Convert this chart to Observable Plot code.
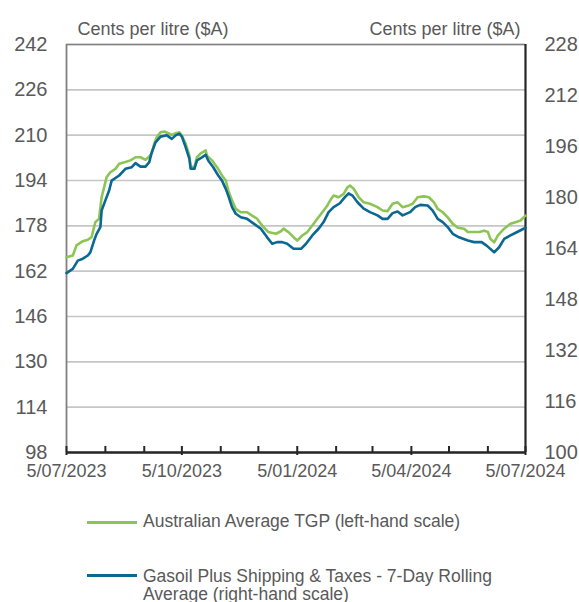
<!DOCTYPE html>
<html><head><meta charset="utf-8">
<script src="https://cdn.jsdelivr.net/npm/d3@7"></script>
<script src="https://cdn.jsdelivr.net/npm/@observablehq/plot@0.6"></script>
<style>
body{margin:0;background:#fff;font-family:"Liberation Sans",Arial,sans-serif;color:#595959;}
#wrap{position:relative;width:579px;height:602px;overflow:hidden;background:#fff;}
#chart{position:absolute;left:0;top:0;}
.sw{position:absolute;left:87px;width:50px;height:3px;}
.lt{position:absolute;left:143px;font-size:17.5px;line-height:18px;width:385px;white-space:normal;}
</style></head><body>
<div id="wrap"><div id="chart"></div><div id="legend"></div></div>
<script>
// ---- data ----
const tgpDates = ["2023-07-05","2023-07-10","2023-07-13","2023-07-18","2023-07-22","2023-07-25","2023-07-28","2023-07-31","2023-08-02","2023-08-06","2023-08-09","2023-08-13","2023-08-16","2023-08-21","2023-08-25","2023-08-29","2023-09-02","2023-09-06","2023-09-09","2023-09-11","2023-09-13","2023-09-15","2023-09-18","2023-09-21","2023-09-25","2023-09-27","2023-09-30","2023-10-03","2023-10-05","2023-10-08","2023-10-11","2023-10-12","2023-10-15","2023-10-17","2023-10-20","2023-10-24","2023-10-25","2023-10-29","2023-11-02","2023-11-06","2023-11-09","2023-11-11","2023-11-14","2023-11-17","2023-11-21","2023-11-26","2023-11-30","2023-12-04","2023-12-08","2023-12-13","2023-12-19","2023-12-23","2023-12-25","2023-12-29","2024-01-02","2024-01-05","2024-01-09","2024-01-13","2024-01-17","2024-01-21","2024-01-25","2024-01-29","2024-02-01","2024-02-03","2024-02-07","2024-02-11","2024-02-14","2024-02-16","2024-02-19","2024-02-23","2024-02-27","2024-03-03","2024-03-09","2024-03-13","2024-03-17","2024-03-21","2024-03-25","2024-03-29","2024-04-03","2024-04-06","2024-04-10","2024-04-15","2024-04-19","2024-04-23","2024-04-26","2024-04-30","2024-05-04","2024-05-08","2024-05-12","2024-05-17","2024-05-20","2024-05-25","2024-05-29","2024-06-02","2024-06-05","2024-06-07","2024-06-10","2024-06-13","2024-06-18","2024-06-23","2024-06-27","2024-07-01","2024-07-05"];
const tgpValues = [166.9,167.5,171.1,172.6,173.1,174.0,179.3,180.5,188.1,195.2,196.9,198.1,199.9,200.5,201.1,202.2,202.2,201.3,202.5,203.6,207.0,209.3,211.0,211.3,210.5,210.1,210.7,211.0,209.9,207.0,202.8,198.9,198.7,202.2,203.6,204.6,202.8,201.1,198.7,195.8,194.0,190.5,186.9,184.0,182.8,182.8,181.6,180.5,178.1,175.8,175.2,176.1,177.0,175.8,174.0,172.8,174.6,175.8,178.1,180.5,182.8,185.2,187.5,188.7,188.1,189.3,191.6,192.2,191.1,188.1,186.3,185.8,184.6,183.4,183.2,185.8,186.3,184.6,185.2,185.8,188.1,188.4,188.1,186.3,184.0,182.8,181.0,178.7,177.3,177.0,175.8,175.8,175.8,176.3,175.8,173.4,172.2,174.6,177.0,178.7,179.3,179.9,181.6];

const gasDates = ["2023-07-05","2023-07-10","2023-07-14","2023-07-18","2023-07-22","2023-07-24","2023-07-27","2023-07-29","2023-08-01","2023-08-02","2023-08-05","2023-08-08","2023-08-10","2023-08-16","2023-08-21","2023-08-26","2023-08-29","2023-09-02","2023-09-06","2023-09-09","2023-09-11","2023-09-14","2023-09-18","2023-09-23","2023-09-27","2023-09-30","2023-10-03","2023-10-05","2023-10-08","2023-10-11","2023-10-12","2023-10-15","2023-10-17","2023-10-21","2023-10-24","2023-10-26","2023-10-30","2023-11-03","2023-11-06","2023-11-09","2023-11-11","2023-11-14","2023-11-17","2023-11-21","2023-11-26","2023-12-01","2023-12-07","2023-12-12","2023-12-16","2023-12-20","2023-12-24","2023-12-28","2024-01-02","2024-01-08","2024-01-12","2024-01-17","2024-01-22","2024-01-26","2024-01-30","2024-02-03","2024-02-08","2024-02-12","2024-02-15","2024-02-18","2024-02-22","2024-02-27","2024-03-03","2024-03-09","2024-03-13","2024-03-17","2024-03-21","2024-03-25","2024-03-29","2024-04-04","2024-04-08","2024-04-12","2024-04-18","2024-04-22","2024-04-26","2024-04-30","2024-05-04","2024-05-08","2024-05-13","2024-05-20","2024-05-25","2024-05-31","2024-06-04","2024-06-10","2024-06-14","2024-06-18","2024-06-23","2024-06-28","2024-07-05"];
const gasValues = [156.3,157.6,160.2,160.8,161.8,162.8,166.5,168.6,170.7,175.9,179.1,182.2,185.3,186.9,189.0,189.5,190.8,189.7,189.7,191.1,194.2,197.3,199.1,199.5,198.4,199.5,200.0,199.1,195.8,192.1,189.0,189.0,191.6,192.6,193.4,191.6,189.5,186.9,185.3,182.7,180.6,177.0,174.9,173.8,173.3,171.9,170.2,167.5,165.5,166.0,166.0,165.5,163.9,163.9,165.5,168.1,170.2,172.3,175.4,177.0,178.2,180.1,181.3,180.6,178.5,176.5,175.4,174.4,173.3,173.3,175.1,175.6,174.4,175.4,177.0,177.7,177.5,175.9,173.3,172.3,170.7,168.6,167.5,166.5,166.0,166.0,164.9,162.8,164.4,167.0,168.1,169.1,170.5];

const leftTicks = [98,114,130,146,162,178,194,210,226,242];
const rightTicks = [100,116,132,148,164,180,196,212,228];
const xTickDates = ["2023-07-05","2023-10-05","2024-01-05","2024-04-05","2024-07-05"];
const xTickLabels = ["5/07/2023","5/10/2023","5/01/2024","5/04/2024","5/07/2024"];
const axisTitle = "Cents per litre ($A)";
const seriesNames = ["Australian Average TGP (left-hand scale)","Gasoil Plus Shipping & Taxes - 7-Day Rolling Average (right-hand scale)"];
const seriesColors = ["#8cc455","#0b6892"];

// ---- build ----
const parse = d3.utcParse("%Y-%m-%d");
const leftDomain = d3.extent(leftTicks);
const rightDomain = d3.extent(rightTicks);
const r2l = d3.scaleLinear(rightDomain, leftDomain);
const tgp = tgpDates.map((d, i) => ({date: parse(d), value: tgpValues[i]}));
const gas = gasDates.map((d, i) => ({date: parse(d), value: gasValues[i], yl: r2l(gasValues[i])}));
const majorDates = xTickDates.map(parse);
const xDomain = [majorDates[0], majorDates[majorDates.length - 1]];
const minorDates = d3.range(13).map(i => d3.utcMonth.offset(xDomain[0], i));

const dark = "#262626", grey = "#808080";
const chart = Plot.plot({
  width: 579, height: 490,
  marginTop: 44, marginBottom: 38, marginLeft: 66, marginRight: 54,
  style: {fontFamily: "'Liberation Sans', Arial, sans-serif", color: "#595959", background: "white", overflow: "visible"},
  x: {type: "utc", domain: xDomain},
  y: {domain: leftDomain},
  marks: [
    Plot.gridY(leftTicks, {stroke: "#c6c6c6", strokeOpacity: 1, strokeWidth: 1.6}),
    Plot.axisY(leftTicks, {anchor: "left", tickSize: 0, tickPadding: 19, fontSize: 20, label: null}),
    Plot.axisY(rightTicks.map(r2l), {anchor: "right", tickSize: 0, tickPadding: 19, fontSize: 20, label: null,
      tickFormat: d => String(Math.round(r2l.invert(d)))}),
    Plot.ruleY([leftDomain[1]], {stroke: grey, strokeWidth: 1.5}),
    Plot.ruleX([xDomain[0]], {stroke: grey, strokeWidth: 1.8}),
    Plot.ruleX([xDomain[1]], {stroke: dark, strokeWidth: 2.2}),
    Plot.line(tgp, {x: "date", y: "value", stroke: seriesColors[0], strokeWidth: 2.6, strokeLinejoin: "round"}),
    Plot.line(gas, {x: "date", y: "yl", stroke: seriesColors[1], strokeWidth: 2.6, strokeLinejoin: "round"}),
    Plot.ruleY([leftDomain[0]], {stroke: dark, strokeWidth: 2.6}),
    Plot.axisX(minorDates, {tickSize: -6, tickFormat: () => "", stroke: dark, strokeWidth: 2, label: null}),
    Plot.axisX(majorDates, {tickSize: 3, tickPadding: 9, fontSize: 18, stroke: dark, strokeWidth: 2, label: null,
      tickFormat: d => xTickLabels[majorDates.findIndex(m => +m === +d)]}),
    Plot.text([axisTitle], {frameAnchor: "top-left", dx: 11, dy: -22, fontSize: 18, textAnchor: "start", fill: "#595959"}),
    Plot.text([axisTitle], {frameAnchor: "top-right", dx: -5, dy: -22, fontSize: 18, textAnchor: "end", fill: "#595959"})
  ]
});
document.getElementById("chart").appendChild(chart);

// legend
const legend = document.getElementById("legend");
const rows = [{sw: 522, top: 512}, {sw: 575, top: 567}];
seriesNames.forEach((name, i) => {
  const sw = document.createElement("div");
  sw.className = "sw"; sw.style.top = (rows[i].sw - 1.5) + "px"; sw.style.background = seriesColors[i];
  const t = document.createElement("div");
  t.className = "lt"; t.style.top = rows[i].top + "px"; t.textContent = name;
  legend.appendChild(sw); legend.appendChild(t);
});
</script>
</body></html>
